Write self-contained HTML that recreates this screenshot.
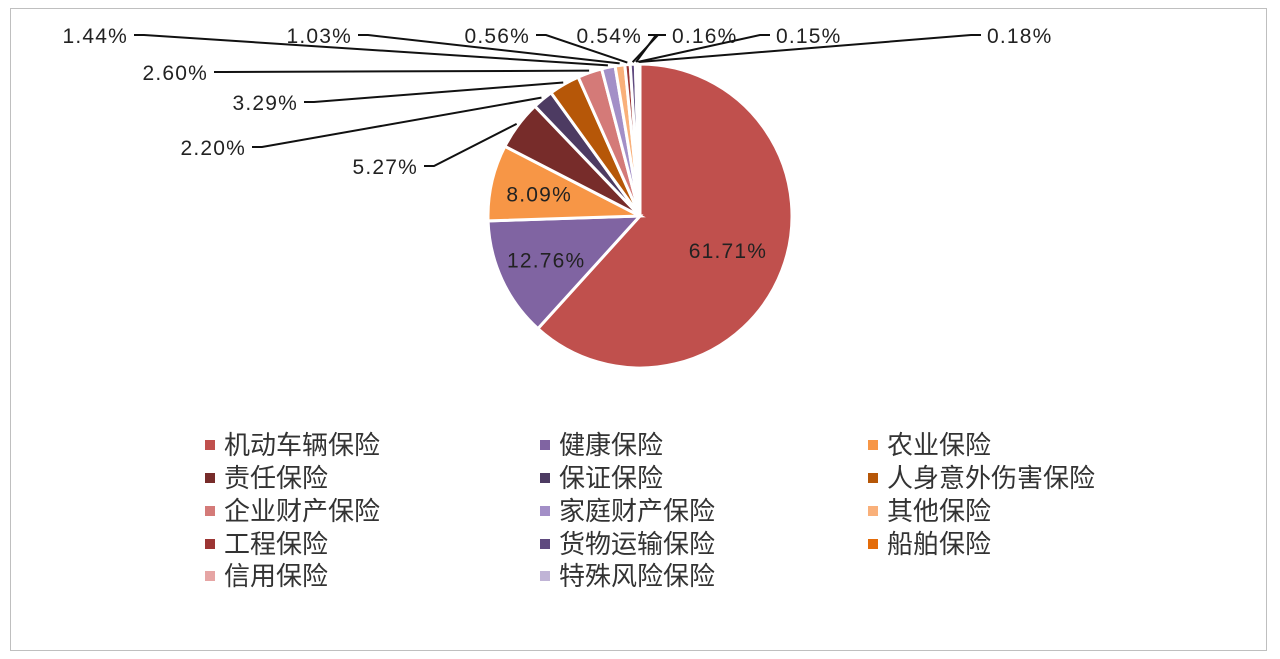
<!DOCTYPE html>
<html><head><meta charset="utf-8"><style>
body{margin:0;background:#fff;width:1280px;height:659px;overflow:hidden;font-family:"Liberation Sans","Noto Sans CJK SC",sans-serif}
#frame{position:absolute;left:10px;top:8px;width:1257px;height:643px;border:1px solid #bfbfbf;box-sizing:border-box}
svg{position:absolute;left:0;top:0}
</style></head><body>
<div id="frame"></div>
<svg id="chart" width="1280" height="659"></svg>
<script>
const categories=["机动车辆保险","健康保险","农业保险","责任保险","保证保险","人身意外伤害保险","企业财产保险","家庭财产保险","其他保险","工程保险","货物运输保险","船舶保险","信用保险","特殊风险保险"];
const values=[61.71,12.76,8.09,5.27,2.20,3.29,2.60,1.44,1.03,0.56,0.54,0.16,0.15,0.18];
const labels=["61.71%","12.76%","8.09%","5.27%","2.20%","3.29%","2.60%","1.44%","1.03%","0.56%","0.54%","0.16%","0.15%","0.18%"];
const colors=["#c0504d","#8064a2","#f79646","#772c2a","#4d3b62","#b65708","#d47a78","#a38fc7","#f9b07a","#9c3533","#5f4a7f","#e46c0a","#e6a5a4","#c0b4d6"];
const outside={3:[418,166,"end"],4:[246,147,"end"],5:[298,102,"end"],6:[208,72,"end"],7:[128,35,"end"],8:[352,35,"end"],9:[530,35,"end"],10:[642,35,"end"],11:[672,35,"start"],12:[776,35,"start"],13:[987,35,"start"]};
const NS="http://www.w3.org/2000/svg",svg=document.getElementById("chart");
const cx=640,cy=216,R=152;
const total=values.reduce((a,b)=>a+b,0);
function pt(a,r){return [cx+r*Math.sin(a),cy-r*Math.cos(a)];}
let a0=0;
values.forEach((v,i)=>{
  const a1=a0+v/total*2*Math.PI;
  const p0=pt(a0,R),p1=pt(a1,R),large=(a1-a0)>Math.PI?1:0;
  const path=document.createElementNS(NS,"path");
  path.setAttribute("d",`M${cx},${cy}L${p0[0]},${p0[1]}A${R},${R} 0 ${large} 1 ${p1[0]},${p1[1]}Z`);
  path.setAttribute("fill",colors[i]);path.setAttribute("stroke","#fff");path.setAttribute("stroke-width","3");
  
  
  svg.appendChild(path);
  const mid=(a0+a1)/2;
  const t=document.createElementNS(NS,"text");
  t.setAttribute("font-size","21");t.setAttribute("letter-spacing","1.2");t.setAttribute("fill","#222");
  t.textContent=labels[i];
  if(outside[i]){
    const [lx,ly,anc]=outside[i];
    t.setAttribute("x",lx);t.setAttribute("y",ly+8);t.setAttribute("text-anchor",anc);
    const e=pt(mid,R+2);
    const sx=anc==="end"?lx+6:lx-6,hx=anc==="end"?sx+10:sx-10;
    const pl=document.createElementNS(NS,"polyline");
    pl.setAttribute("points",`${sx},${ly} ${hx},${ly} ${e[0]},${e[1]}`);
    pl.setAttribute("fill","none");pl.setAttribute("stroke","#111");pl.setAttribute("stroke-width","2");
    
    
    svg.appendChild(pl);
  } else {
    const rr=i===0?0.62*R:0.68*R;const p=pt(mid,rr);
    t.setAttribute("x",p[0]);t.setAttribute("y",p[1]+8);t.setAttribute("text-anchor","middle");
  }
  
  
  svg.appendChild(t);
  a0=a1;
});
const colX=[205,540,868],rowY=[445,478,511,544,576];
categories.forEach((c,i)=>{
  const x=colX[i%3],y=rowY[Math.floor(i/3)];
  const g=document.createElementNS(NS,"g");
  
  
  const r=document.createElementNS(NS,"rect");
  r.setAttribute("x",x);r.setAttribute("y",y-5);r.setAttribute("width",10);r.setAttribute("height",10);r.setAttribute("fill",colors[i]);
  const t=document.createElementNS(NS,"text");
  t.setAttribute("x",x+19);t.setAttribute("y",y+9);t.setAttribute("font-size","26");t.setAttribute("fill","#333");
  t.textContent=c;
  g.appendChild(r);g.appendChild(t);svg.appendChild(g);
});
</script>
</body></html>
